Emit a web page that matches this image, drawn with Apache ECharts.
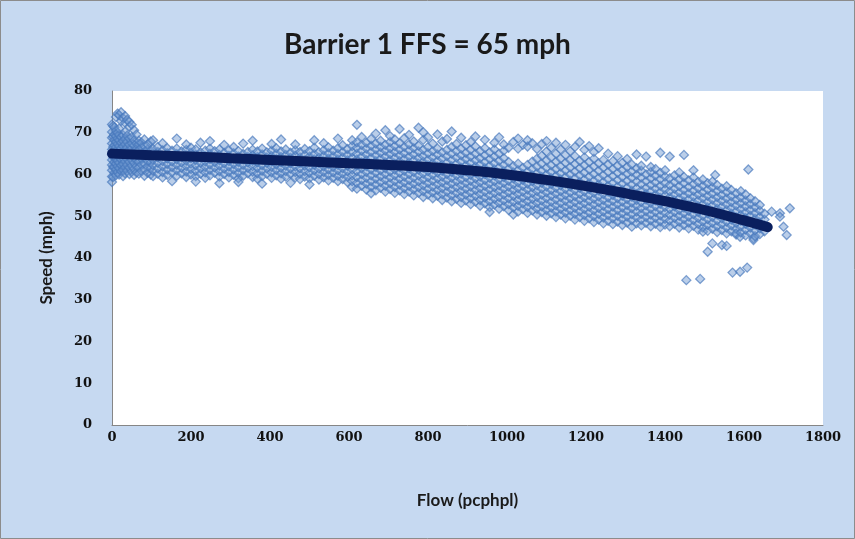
<!DOCTYPE html>
<html><head><meta charset="utf-8">
<script src="https://cdn.jsdelivr.net/npm/echarts/dist/echarts.min.js"></script>
<style>html,body{margin:0;padding:0;background:#c6d9f1}#c{width:855px;height:539px}</style>
</head><body><div id="c"></div><script>
// Axis ticks
const xTicks = [0,200,400,600,800,1000,1200,1400,1600,1800];
const yTicks = [0,10,20,30,40,50,60,70,80];

// Fitted speed-flow curve
const fitFlow  = [0,100,200,300,400,500,600,700,800,900,1000,1100,1200,1300,1400,1500,1600,1660];
const fitSpeed = [65,64.6,64.3,63.9,63.5,63.1,62.7,62.3,61.8,61,60,58.7,57.2,55.5,53.6,51.5,49,47.4];

// Observations: each row = [flow, speed, speed, ...]
const obsLow = [
[0,58.2,59.5,61,62.3,63.5,64.8,66,67.4,68.8,70.2,72],
[3,59.4,61.8,64.2,66.6,69.1,71.6],
[6,60.4,61.8,63,64.2,65.5,67,68.3,69.6,71.3],
[10,59.8,61.2,62.6,64,65.2,66.5,67.8,69.2,70.5,73.8],
[14,60.6,62,63.3,64.6,66,67.3,68.6,70,74.6],
[18,60,61.5,62.8,64.2,65.6,66.8,68.2,69.5,71,74.2],
[23,60.8,62.2,63.6,65,66.3,67.6,69,72.8,74.9],
[28,59.6,61.1,62.5,63.9,65.4,66.7,68,69.4,73.5],
[33,60.3,61.7,63.1,64.4,65.8,67.2,68.5,70.2,72.4,74],
[38,60.9,62.3,63.7,65.1,66.4,67.8,69.3,73.1],
[44,60.1,61.6,63,64.4,65.9,67.1,68.6,71.5,72.6],
[50,60.7,62.1,63.5,64.9,66.2,67.5,69,71.9],
[56,59.9,61.4,62.8,64.2,65.6,67,68.2,70.6],
[62,60.5,62,63.4,64.8,66.1,67.4,69.6],
[68,60.2,61.7,63.1,64.5,65.9,67.3,68.1],
[75,60.8,62.3,63.7,65,66.4,67.6],
[82,59.7,61.3,62.7,64.1,65.5,66.8,68.4],
[90,60.4,61.9,63.3,64.7,66,67.2],
[98,60,61.5,62.9,64.3,65.7,67.9],
[104,59.6,60.9,62.2,63.5,64.8,66.1,68.2],
[116,60.2,61.5,62.8,64.1,65.4,66.6],
[128,59.3,60.6,61.9,63.2,64.5,65.8,67.5],
[140,59.9,61.2,62.5,63.8,65.1,66.3],
[152,60.5,61.8,63.1,64.4,65.7,58.4],
[164,59.7,61,62.3,63.6,64.9,66.2,68.6],
[176,60.3,61.6,62.9,64.2,65.5],
[188,59.4,60.7,62,63.3,64.6,65.9,67.2],
[200,60,61.3,62.6,63.9,65.2,66.4],
[212,59.6,60.9,62.2,63.5,64.8,66,58.3],
[224,60.2,61.5,62.8,64.1,65.3,67.6],
[236,59.2,60.5,61.8,63.1,64.4,65.7],
[248,59.8,61.1,62.4,63.7,65,66.2,68],
[260,60.4,61.7,63,64.3,65.6],
[272,59.5,60.8,62.1,63.4,64.7,66,57.9],
[284,60.1,61.4,62.7,64,65.2,67.1],
[296,59.3,60.6,61.9,63.2,64.5,65.8],
[308,59.9,61.2,62.5,63.8,65.1,66.6],
[320,59.1,60.4,61.7,63,64.3,65.6,58.2],
[332,59.7,61,62.3,63.6,64.9,67.4],
[344,60.3,61.6,62.9,64.2,65.4],
[356,59.4,60.7,62,63.3,64.6,65.9,68.1],
[368,59,60.3,61.6,62.9,64.2,65.5],
[380,59.6,60.9,62.2,63.5,64.8,66.2,57.8],
[392,60.2,61.5,62.8,64.1,65.3]
];
const obsMid = [
[404,59.2,60.5,61.8,63.1,64.4,65.7,67.3],
[416,59.8,61.1,62.4,63.7,65,66.3],
[428,59,60.3,61.6,62.9,64.2,65.5,68.4],
[440,59.5,60.8,62.1,63.4,64.7,66],
[452,60.1,61.4,62.7,64,65.2,58],
[464,59.3,60.6,61.9,63.2,64.5,65.8,67.2],
[476,58.9,60.2,61.5,62.8,64.1,65.4],
[488,59.5,60.8,62.1,63.4,64.7,66.1],
[500,59.1,60.4,61.7,63,64.3,65.6,57.6],
[512,59.7,61,62.3,63.6,64.9,66.4,68.2],
[524,58.8,60.1,61.4,62.7,64,65.3],
[536,59.3,60.6,61.9,63.2,64.5,65.8,67.5],
[548,58.6,59.9,61.2,62.5,63.8,65.1,66.5],
[560,59.2,60.5,61.8,63.1,64.4,65.7],
[572,58.4,59.7,61,62.3,63.6,64.9,66.3,68.6],
[584,58.9,60.2,61.5,62.8,64.1,65.4,67],
[596,58.2,59.5,60.8,62.1,63.4,64.7,66.1],
[608,57,58.4,59.8,61.2,62.6,64,65.4,66.8,68.2],
[620,56.6,58,59.4,60.8,62.2,63.6,65,66.4,67.7,71.9],
[632,57.3,58.7,60.1,61.5,62.9,64.3,65.7,67.1,69],
[644,56.4,57.8,59.2,60.6,62,63.4,64.8,66.2,67.6],
[656,57,58.4,59.8,61.2,62.6,64,65.4,66.9,68.5,55.5],
[668,56.2,57.6,59,60.4,61.8,63.2,64.6,66,67.4,69.8],
[680,56.8,58.2,59.6,61,62.4,63.8,65.2,66.6,68.1],
[692,55.9,57.3,58.7,60.1,61.5,62.9,64.3,65.7,67.1,70.6],
[704,56.5,57.9,59.3,60.7,62.1,63.5,64.9,66.3,67.8,69.2],
[716,55.6,57,58.4,59.8,61.2,62.6,64,65.4,66.8,68.4],
[728,56.2,57.6,59,60.4,61.8,63.2,64.6,66,67.5,70.9],
[740,55.3,56.7,58.1,59.5,60.9,62.3,63.7,65.1,66.6,68.7],
[752,55.9,57.3,58.7,60.1,61.5,62.9,64.3,65.8,67.2,69.5],
[764,55,56.4,57.8,59.2,60.6,62,63.4,64.8,66.3,67.9],
[776,55.6,57,58.4,59.8,61.2,62.6,64,65.5,66.9,71.2],
[788,54.6,56,57.4,58.8,60.2,61.6,63,64.4,65.9,68.3,70.1],
[800,55.2,56.6,58,59.4,60.8,62.2,63.6,65.1,66.6,68.9]
];
const obsHigh = [
[812,54.3,55.7,57.1,58.5,59.9,61.3,62.7,64.1,65.6,67.4],
[824,54.9,56.3,57.7,59.1,60.5,61.9,63.3,64.8,66.2,69.6],
[836,53.9,55.3,56.7,58.1,59.5,60.9,62.3,63.8,65.3,67.9],
[848,54.5,55.9,57.3,58.7,60.1,61.5,62.9,64.4,65.9,68.5],
[860,53.6,55,56.4,57.8,59.2,60.6,62,63.5,65,66.6,70.3],
[872,54.2,55.6,57,58.4,59.8,61.2,62.6,64.1,65.6,67.3],
[884,53.2,54.6,56,57.4,58.8,60.2,61.6,63.1,64.6,66.2,68.8],
[896,53.8,55.2,56.6,58,59.4,60.8,62.2,63.7,65.2,67],
[908,52.9,54.3,55.7,57.1,58.5,59.9,61.3,62.8,64.3,65.9,67.8],
[920,53.5,54.9,56.3,57.7,59.1,60.5,61.9,63.4,65,66.7,69.1],
[932,52.5,53.9,55.3,56.7,58.1,59.5,60.9,62.4,63.9,65.6],
[944,53.1,54.5,55.9,57.3,58.7,60.1,61.5,63,64.6,66.3,68.3],
[956,52.2,53.6,55,56.4,57.8,59.2,60.6,62.1,63.7,65.3,51],
[968,52.8,54.2,55.6,57,58.4,59.8,61.2,62.7,64.3,66,67.6],
[980,51.8,53.2,54.6,56,57.4,58.8,60.2,61.7,63.3,65,68.9],
[992,52.4,53.8,55.2,56.6,58,59.4,60.8,62.3,63.9,65.7,67.2],
[1004,51.5,52.9,54.3,55.7,57.1,58.5,59.9,61.4,63,66.4],
[1016,52.1,53.5,54.9,56.3,57.7,59.1,60.5,62,67.8,50.4],
[1028,51.1,52.5,53.9,55.3,56.7,58.1,59.5,61,62.6,66.2,68.6],
[1040,51.7,53.1,54.5,55.9,57.3,58.7,60.1,61.6,67.1],
[1052,50.8,52.2,53.6,55,56.4,57.8,59.2,60.7,62.3,66.7,68.2],
[1064,51.4,52.8,54.2,55.6,57,58.4,59.8,61.3,63.1,67.5],
[1076,50.4,51.8,53.2,54.6,56,57.4,58.8,60.3,61.9,63.8,66.1],
[1088,51,52.4,53.8,55.2,56.6,58,59.4,60.9,62.6,64.5,67.3],
[1100,50.1,51.5,52.9,54.3,55.7,57.1,58.5,60,61.6,63.4,65.5,68],
[1112,50.7,52.1,53.5,54.9,56.3,57.7,59.1,60.6,62.2,64.1,66.4],
[1124,49.8,51.2,52.6,54,55.4,56.8,58.2,59.7,61.3,63.1,65,67.6],
[1136,50.4,51.8,53.2,54.6,56,57.4,58.8,60.3,61.9,63.8,66],
[1148,49.5,50.9,52.3,53.7,55.1,56.5,57.9,59.4,61,62.8,64.7,67.1],
[1160,50.1,51.5,52.9,54.3,55.7,57.1,58.5,60,61.7,63.5,65.6],
[1172,49.2,50.6,52,53.4,54.8,56.2,57.6,59.1,60.7,62.5,64.4,66.6],
[1184,49.8,51.2,52.6,54,55.4,56.8,58.2,59.8,61.5,63.3,67.8],
[1196,48.9,50.3,51.7,53.1,54.5,55.9,57.3,58.8,60.4,62.2,64.1,65.9]
];
const obsCongested = [
[1208,49.5,50.9,52.3,53.7,55.1,56.5,57.9,59.5,61.2,63,66.8],
[1220,48.6,50,51.4,52.8,54.2,55.6,57,58.5,60.1,61.9,63.8,65.4],
[1232,49.2,50.6,52,53.4,54.8,56.2,57.6,59.2,60.9,62.7,66.3],
[1244,48.3,49.7,51.1,52.5,53.9,55.3,56.7,58.2,59.8,61.6,63.5],
[1256,48.9,50.3,51.7,53.1,54.5,55.9,57.3,58.9,60.6,62.4,65],
[1268,48.1,49.5,50.9,52.3,53.7,55.1,56.5,58,59.6,61.3,63.2],
[1280,48.7,50.1,51.5,52.9,54.3,55.7,57.1,58.7,60.4,62.1,64.4],
[1292,47.9,49.3,50.7,52.1,53.5,54.9,56.3,57.8,59.4,61,62.8],
[1304,48.5,49.9,51.3,52.7,54.1,55.5,56.9,58.5,60.2,61.8,63.7],
[1316,47.5,49.1,50.5,51.9,53.3,54.7,56.1,57.6,59.2,60.7,62.4],
[1328,48.3,49.7,51.1,52.5,53.9,55.3,56.7,58.3,59.9,61.5,64.8],
[1340,47.8,49.2,50.6,52,53.4,54.8,56.2,57.7,59.3,60.9,62.1],
[1352,48.4,49.8,51.2,52.6,54,55.4,56.8,58.4,60,64.3],
[1364,47.6,49,50.4,51.8,53.2,54.6,56,57.5,59.1,60.6,61.8],
[1376,48.2,49.6,51,52.4,53.8,55.2,56.6,58.1,59.7,61.3],
[1388,47.4,48.8,50.2,51.6,53,54.4,55.8,57.3,58.9,60.4,65.2],
[1400,48,49.4,50.8,52.2,53.6,55,56.4,57.9,59.5,61],
[1412,47.6,49,50.4,51.8,53.2,54.6,56,57.5,59.1,64.3],
[1424,48.2,49.6,51,52.4,53.8,55.2,56.6,58.2,59.8],
[1436,47.3,48.7,50.1,51.5,52.9,54.3,55.7,57.2,58.8,60.5],
[1448,47.9,49.3,50.7,52.1,53.5,54.9,56.3,57.9,59.4,64.7],
[1454,34.7],
[1460,47.1,48.5,49.9,51.3,52.7,54.1,55.5,57,58.6],
[1472,47.7,49.1,50.5,51.9,53.3,54.7,56.1,57.7,59.3,61],
[1484,46.8,48.2,49.6,51,52.4,53.8,55.2,56.7,58.2],
[1489,35],
[1496,47.3,48.7,50.1,51.5,52.9,54.3,55.7,57.3,58.8,46.3],
[1508,46.5,47.9,49.3,50.7,52.1,53.5,54.9,56.4,57.9,41.5],
[1520,47,48.4,49.8,51.2,52.6,54,55.4,56.9,58.3,43.5],
[1527,59.9],
[1532,46.2,47.6,49,50.4,51.8,53.2,54.6,56.1,57.5],
[1544,46.7,48.1,49.5,50.9,52.3,53.7,55.1,56.6,43.1],
[1556,45.9,47.3,48.7,50.1,51.5,52.9,54.3,55.8,57.2,42.9],
[1568,46.4,47.8,49.2,50.6,52,53.4,54.8,56.3],
[1571,36.5],
[1580,45.6,47,48.4,49.8,51.2,52.6,54,55.5,45.9],
[1590,36.7,45.1],
[1592,46.1,47.5,48.9,50.3,51.7,53.1,54.5,56],
[1604,45.4,46.8,48.2,49.6,51,52.4,53.8,55.2],
[1608,37.7],
[1611,61.2],
[1616,45.9,47.3,48.7,50.1,51.5,52.9,54.3],
[1624,44.7,44.3],
[1628,45.2,46.6,48,49.4,50.8,52.2,53.6],
[1640,45.7,47.1,48.5,49.9,51.3,52.7],
[1652,46.4,47.8,49.2,50.6],
[1670,51.1],
[1691,50.7,49.9],
[1700,47.5],
[1708,45.5],
[1716,51.9]
];

function expand(rows){
  const out=[];
  rows.forEach(r=>{for(let i=1;i<r.length;i++) out.push([r[0],r[i]]);});
  return out;
}
const scatterData = [].concat(expand(obsLow),expand(obsMid),expand(obsHigh),expand(obsCongested));
const fitData = fitFlow.map((f,i)=>[f,fitSpeed[i]]);

const chart = echarts.init(document.getElementById('c'), null, {renderer:'canvas'});
const labelFont = {fontFamily:'DejaVu Serif', fontSize:13, fontWeight:'bold', color:'#111111', formatter:(v)=>String(v)};
chart.setOption({
  backgroundColor:'#c6d9f1',
  animation:false,
  title:{
    text:'Barrier 1 FFS = 65 mph',
    left:'center', top:26,
    textStyle:{fontFamily:'Lato', fontSize:28, fontWeight:'bold', color:'#1a1a1a'}
  },
  graphic:[{type:'rect', shape:{x:0.5,y:0.5,width:854,height:538}, style:{fill:'none', stroke:'#8c8c8c', lineWidth:1}, z:-1}],
  grid:{left:112, right:32, top:91, bottom:114, show:true, backgroundColor:'#ffffff', borderWidth:0},
  xAxis:{
    type:'value', min:xTicks[0], max:xTicks[xTicks.length-1], interval:200,
    name:'Flow (pcphpl)', nameLocation:'middle', nameGap:67,
    nameTextStyle:{fontFamily:'Lato', fontSize:17, fontWeight:'bold', color:'#1a1a1a'},
    axisLine:{show:true, lineStyle:{color:'#868686', width:1}},
    axisTick:{show:false},
    splitLine:{show:false},
    axisLabel:Object.assign({margin:6}, labelFont)
  },
  yAxis:{
    type:'value', min:yTicks[0], max:yTicks[yTicks.length-1], interval:10,
    name:'Speed (mph)', nameLocation:'middle', nameGap:57, nameRotate:90,
    nameTextStyle:{fontFamily:'Lato', fontSize:17, fontWeight:'bold', color:'#1a1a1a'},
    axisLine:{show:true, lineStyle:{color:'#868686', width:1}},
    axisTick:{show:false},
    splitLine:{show:false},
    axisLabel:Object.assign({margin:20}, labelFont)
  },
  series:[
    {type:'scatter', data:scatterData, symbol:'diamond', symbolSize:9,
     itemStyle:{color:'rgba(110,152,210,0.6)', borderColor:'rgba(72,120,188,0.85)', borderWidth:1.3},
     z:2, silent:true},
    {type:'line', data:fitData, smooth:true, showSymbol:false, symbol:'none', clip:false,
     lineStyle:{color:'#0a1f5e', width:10, cap:'round'}, z:5, silent:true}
  ]
});
</script></body></html>
